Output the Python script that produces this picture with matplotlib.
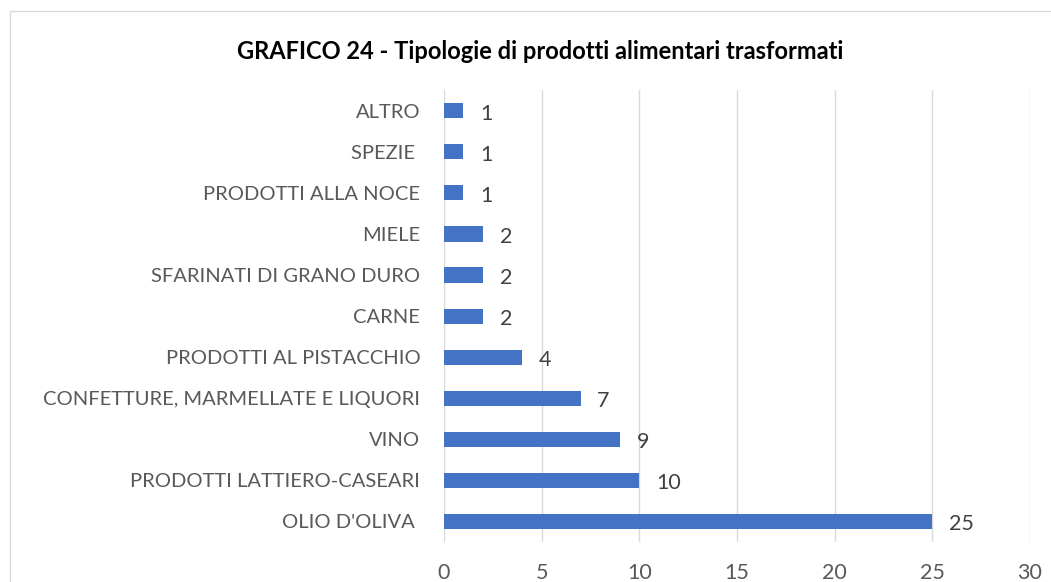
import matplotlib.pyplot as plt
from matplotlib.patches import Rectangle

# Data (bottom to top as drawn)
categories = ["OLIO D'OLIVA ", "PRODOTTI LATTIERO-CASEARI", "VINO",
              "CONFETTURE, MARMELLATE E LIQUORI", "PRODOTTI AL PISTACCHIO",
              "CARNE", "SFARINATI DI GRANO DURO", "MIELE",
              "PRODOTTI ALLA NOCE", "SPEZIE ", "ALTRO"]
values = [25, 10, 9, 7, 4, 2, 2, 2, 1, 1, 1]
x_ticks = [0, 5, 10, 15, 20, 25, 30]

plt.rcParams['font.family'] = ['Lato', 'DejaVu Sans']

fig = plt.figure(figsize=(10.51, 5.82), dpi=100)
ax = fig.add_axes([0.4224, 0.0687, 0.5576, 0.7763])

ypos = range(len(categories))
ax.barh(ypos, values, height=0.37, color='#4472C4', zorder=3)

for y, v in zip(ypos, values):
    ax.annotate(str(v), (v, y), xytext=(12, -2), textcoords='offset points',
                va='center', ha='left', fontsize=15.5, color='#404040')

ax.set_xlim(0, 30)
ax.set_ylim(-0.5, len(categories) - 0.5)
ax.set_xticks(x_ticks)
ax.set_yticks(list(ypos))
ax.set_yticklabels(categories, fontsize=14.5)
ax.tick_params(axis='both', length=0, labelcolor='#595959')
ax.tick_params(axis='x', pad=15, labelsize=15.5)
ax.tick_params(axis='y', pad=17)
ax.grid(axis='x', color='#D9D9D9', linewidth=1, zorder=0)
for s in ax.spines.values():
    s.set_visible(False)

fig.text(0.514, 0.912, "GRAFICO 24 - Tipologie di prodotti alimentari trasformati",
         ha='center', va='center', fontsize=17, fontweight='bold', color='black')

# chart border
fig.patches.append(Rectangle((10 / 1051, -0.1), 1.2, 1.1 - 11 / 582,
                             transform=fig.transFigure, fill=False,
                             edgecolor='#D9D9D9', linewidth=1))

fig.savefig('out.png', dpi=100)
